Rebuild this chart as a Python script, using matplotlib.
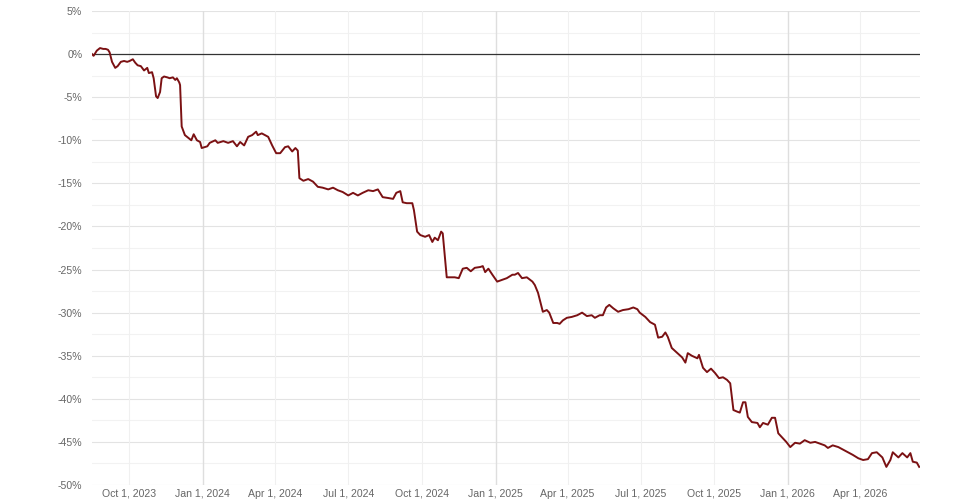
import matplotlib
matplotlib.use("Agg")
import matplotlib.pyplot as plt
import pandas as pd
import numpy as np

plt.rcParams['font.family'] = ['Liberation Sans', 'DejaVu Sans']

start_date = "2023-08-16"
end_date = "2026-06-15"

# day offsets from start_date
days = [0, 2, 6, 10, 14, 17, 20, 22, 25, 29, 32, 36, 40, 44, 47, 51, 54, 57, 61, 65,
        69, 71, 75, 77, 80, 82, 85, 87, 90, 94, 97, 101, 104, 106, 109, 110, 112, 116, 120, 124,
        127, 131, 135, 137, 144, 147, 154, 157, 164, 170, 176, 181, 185, 190, 195, 200, 205, 207, 212, 216,
        220, 225, 230, 235, 241, 245, 250, 254, 257, 259, 264, 270, 276, 282, 288, 295, 301, 307, 313, 320,
        326, 332, 338, 345, 351, 357, 363, 370, 376, 380, 385, 388, 393, 400, 402, 406, 410, 416, 421, 425,
        428, 432, 436, 438, 441, 443, 447, 453, 458, 463, 468, 473, 478, 485, 488, 491, 495, 500, 506, 512,
        518, 525, 528, 532, 537, 543, 550, 553, 557, 563, 568, 571, 576, 581, 584, 588, 593, 599, 606, 612,
        618, 624, 628, 634, 638, 642, 646, 651, 657, 663, 670, 676, 681, 684, 691, 697, 703, 707, 712, 716,
        719, 724, 731, 737, 741, 744, 749, 756, 758, 763, 768, 773, 778, 783, 788, 793, 797, 801, 806, 809,
        813, 816, 819, 824, 831, 834, 838, 844, 849, 853, 857, 862, 867, 872, 878, 884, 890, 897, 903, 909,
        915, 919, 925, 932, 938, 944, 950, 957, 963, 969, 974, 980, 987, 992, 997, 1000, 1007, 1012, 1018, 1022,
        1025, 1030, 1033]

values = [0.0, -0.2, 0.4, 0.7, 0.6, 0.6, 0.5, 0.2, -0.9, -1.6, -1.4, -0.9, -0.8, -0.9, -0.8, -0.6, -1.0, -1.3, -1.4, -1.9,
          -1.6, -2.2, -2.1, -2.8, -4.9, -5.1, -4.4, -2.8, -2.6, -2.7, -2.8, -2.7, -3.0, -2.8, -3.3, -3.6, -8.4, -9.4, -9.7, -10.0,
          -9.3, -10.0, -10.2, -10.9, -10.7, -10.3, -10.0, -10.3, -10.1, -10.3, -10.1, -10.7, -10.2, -10.6, -9.6, -9.4, -9.0, -9.4, -9.2, -9.4,
          -9.6, -10.6, -11.5, -11.5, -10.8, -10.7, -11.3, -10.9, -11.2, -14.4, -14.7, -14.5, -14.8, -15.4, -15.5, -15.7, -15.5, -15.8, -16.0, -16.4,
          -16.1, -16.4, -16.1, -15.8, -15.9, -15.7, -16.6, -16.7, -16.8, -16.1, -15.9, -17.2, -17.3, -17.3, -18.1, -20.6, -21.0, -21.2, -21.0, -21.8,
          -21.3, -21.6, -20.6, -20.8, -23.9, -25.9, -25.9, -25.9, -26.0, -24.9, -24.8, -25.2, -24.8, -24.7, -24.6, -25.3, -24.9, -25.6, -26.4, -26.2,
          -26.0, -25.6, -25.6, -25.4, -26.0, -25.9, -26.4, -26.8, -27.7, -29.9, -29.7, -30.0, -31.2, -31.2, -31.3, -30.9, -30.6, -30.5, -30.3, -30.0,
          -30.4, -30.3, -30.6, -30.3, -30.3, -29.4, -29.1, -29.5, -29.9, -29.7, -29.6, -29.4, -29.6, -30.0, -30.5, -31.1, -31.4, -32.9, -32.8, -32.3,
          -32.8, -34.1, -34.7, -35.2, -35.8, -34.7, -35.0, -35.3, -34.9, -36.4, -36.9, -36.5, -37.0, -37.6, -37.5, -37.8, -38.2, -41.3, -41.5, -41.6,
          -40.4, -40.4, -42.1, -42.7, -42.8, -43.3, -42.8, -43.0, -42.2, -42.2, -44.0, -44.5, -45.0, -45.6, -45.1, -45.2, -44.8, -45.1, -45.0, -45.2,
          -45.4, -45.7, -45.4, -45.6, -45.9, -46.2, -46.5, -46.9, -47.1, -47.0, -46.3, -46.2, -46.8, -47.9, -47.1, -46.2, -46.8, -46.3, -46.8, -46.3,
          -47.3, -47.4, -47.9]

x_tick_dates = ["2023-10-01", "2024-01-01", "2024-04-01", "2024-07-01", "2024-10-01",
                "2025-01-01", "2025-04-01", "2025-07-01", "2025-10-01", "2026-01-01", "2026-04-01"]
x_tick_labels = ["Oct 1, 2023", "Jan 1, 2024", "Apr 1, 2024", "Jul 1, 2024", "Oct 1, 2024",
                 "Jan 1, 2025", "Apr 1, 2025", "Jul 1, 2025", "Oct 1, 2025", "Jan 1, 2026", "Apr 1, 2026"]
y_ticks = [5, 0, -5, -10, -15, -20, -25, -30, -35, -40, -45, -50]

dates = pd.Timestamp(start_date) + pd.to_timedelta(days, unit="D")

fig = plt.figure(figsize=(9.8, 5.04), dpi=100)
ax = fig.add_axes([92/980, 19/504, 828/980, 474/504])

ax.set_xlim(pd.Timestamp(start_date), pd.Timestamp(end_date))
ax.set_ylim(-50, 5)

# grid lines
minor_y = np.arange(-47.5, 5, 5)
for v in minor_y:
    ax.axhline(v, color="#f2f2f2", lw=0.8, zorder=0)
for v in y_ticks:
    if v != 0:
        ax.axhline(v, color="#e3e3e3", lw=0.8, zorder=0)
xt = pd.to_datetime(x_tick_dates)
for d in xt:
    if d.month == 1:
        ax.axvline(d, color="#dedede", lw=1.0, zorder=0)
    else:
        ax.axvline(d, color="#f0f0f0", lw=0.8, zorder=0)
ax.axhline(0, color="#333333", lw=0.9, zorder=1)

ax.plot(dates, values, color="#7b1113", lw=1.4, zorder=3, solid_joinstyle="round")

ax.set_xticks(xt)
ax.set_xticklabels(x_tick_labels, va="baseline")
ax.set_yticks(y_ticks)
ax.set_yticklabels([f"{v}%" for v in y_ticks])
ax.tick_params(axis="both", length=0, labelsize=7.6, labelcolor="#666666")
ax.tick_params(axis="y", pad=7)
ax.tick_params(axis="x", pad=8.5)
for s in ax.spines.values():
    s.set_visible(False)

fig.savefig("out.png", dpi=100)
